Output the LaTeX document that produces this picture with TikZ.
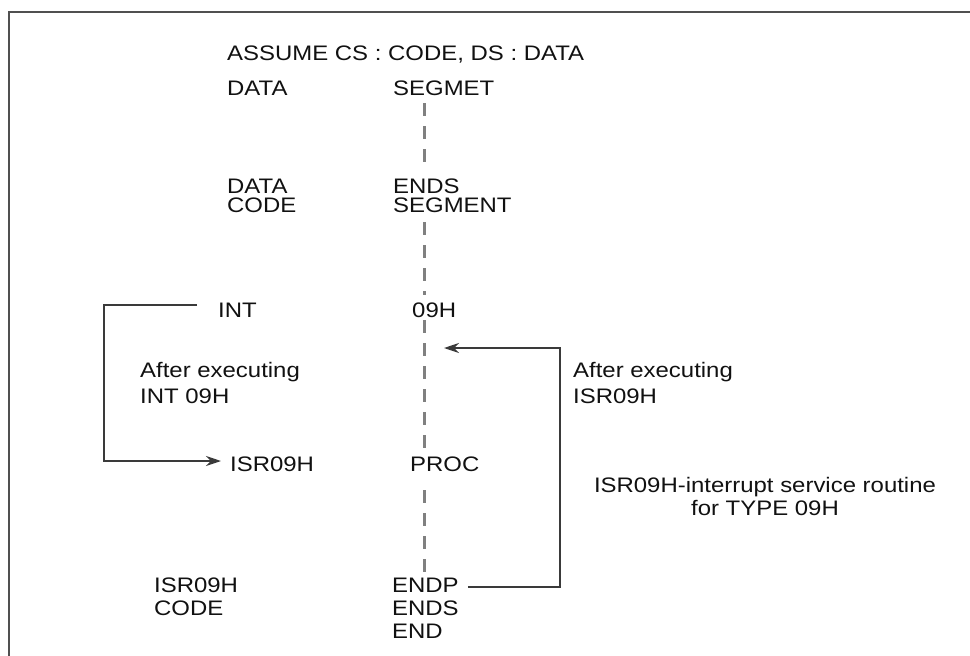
\documentclass[tikz,border=0pt]{standalone}
\usepackage{fontspec}
\setmainfont{Liberation Sans}[FakeStretch=1.14]
\usetikzlibrary{arrows.meta,calc}
\definecolor{txt}{HTML}{111111}
\definecolor{frame}{HTML}{505050}
\definecolor{conn}{HTML}{3A3A3A}
\definecolor{dashc}{HTML}{808080}
\begin{document}
\begin{tikzpicture}[x=1pt,y=-1pt,
  lbl/.style={anchor=base west,inner sep=0pt,text=txt,font=\fontsize{21}{24}\selectfont},
  clbl/.style={anchor=base,inner sep=0pt,text=txt,font=\fontsize{21}{24}\selectfont},
  dashline/.style={draw=dashc,line width=3pt,dash pattern=on 13pt off 10pt},
  conline/.style={draw=conn,line width=2pt},
  arr/.style={-{Stealth[length=15pt,width=10pt,inset=5pt]}}]
\useasboundingbox (0,0) rectangle (970,656);
% frame
\draw[frame,line width=2.4pt] (9,660) -- (9,12) -- (975,12);
% texts
\node[lbl] (assume) at (227,60) {ASSUME CS : CODE, DS : DATA};
\node[lbl] (data1) at (227,95.5) {DATA};
\node[lbl] (segmet) at (393,95.5) {SEGMET};
\node[lbl] (data2) at (227,193) {DATA};
\node[lbl] (ends1) at (393,193) {ENDS};
\node[lbl] (code1) at (227,212) {CODE};
\node[lbl] (segment) at (393,212) {SEGMENT};
\node[lbl] (int) at (218,317.5) {INT};
\node[lbl] (h09) at (412,317.5) {09H};
\node[lbl] (aftl1) at (140,377.5) {After executing};
\node[lbl] (aftl2) at (140,403) {INT 09H};
\node[lbl] (aftr1) at (573,377.5) {After executing};
\node[lbl] (aftr2) at (573,403) {ISR09H};
\node[lbl] (isr) at (230,471.5) {ISR09H};
\node[lbl] (proc) at (410,471.5) {PROC};
\node[clbl] (note1) at (765,492.5) {ISR09H-interrupt service routine};
\node[clbl] (note2) at (765,515.5) {for TYPE 09H};
\node[lbl] (isr2) at (154,592.5) {ISR09H};
\node[lbl] (endp) at (392,592.5) {ENDP};
\node[lbl] (code2) at (154,615.5) {CODE};
\node[lbl] (ends2) at (392,615.5) {ENDS};
\node[lbl] (end) at (392,638.5) {END};
% dashed program flow
\coordinate (d1a) at (424,103);
\coordinate (d1b) at (424,163);
\coordinate (d2a) at (424,222);
\coordinate (d2b) at (424,295);
\coordinate (d3a) at (424,320);
\coordinate (d3b) at (424,449);
\coordinate (d4a) at (424,490);
\coordinate (d4b) at (424,572);
\draw[dashline] (d1a) -- (d1b);
\draw[dashline] (d2a) -- (d2b);
\draw[dashline] (d3a) -- (d3b);
\draw[dashline] (d4a) -- (d4b);
% left bracket: INT -> ISR09H
\coordinate (intout) at ($(int.west)+(-21,0)$);
\coordinate (isrin) at ($(isr.west)+(-9,0)$);
\draw[conline,arr] (intout |- 0,305) -- (104,305) |- (isrin |- 0,461);
% right bracket: ENDP -> back after INT
\coordinate (endpout) at ($(endp.east)+(9,0)$);
\coordinate (ret) at (444,348);
\draw[conline,arr] (endpout |- 0,587) -- (560,587) |- (ret);
\end{tikzpicture}
\end{document}
